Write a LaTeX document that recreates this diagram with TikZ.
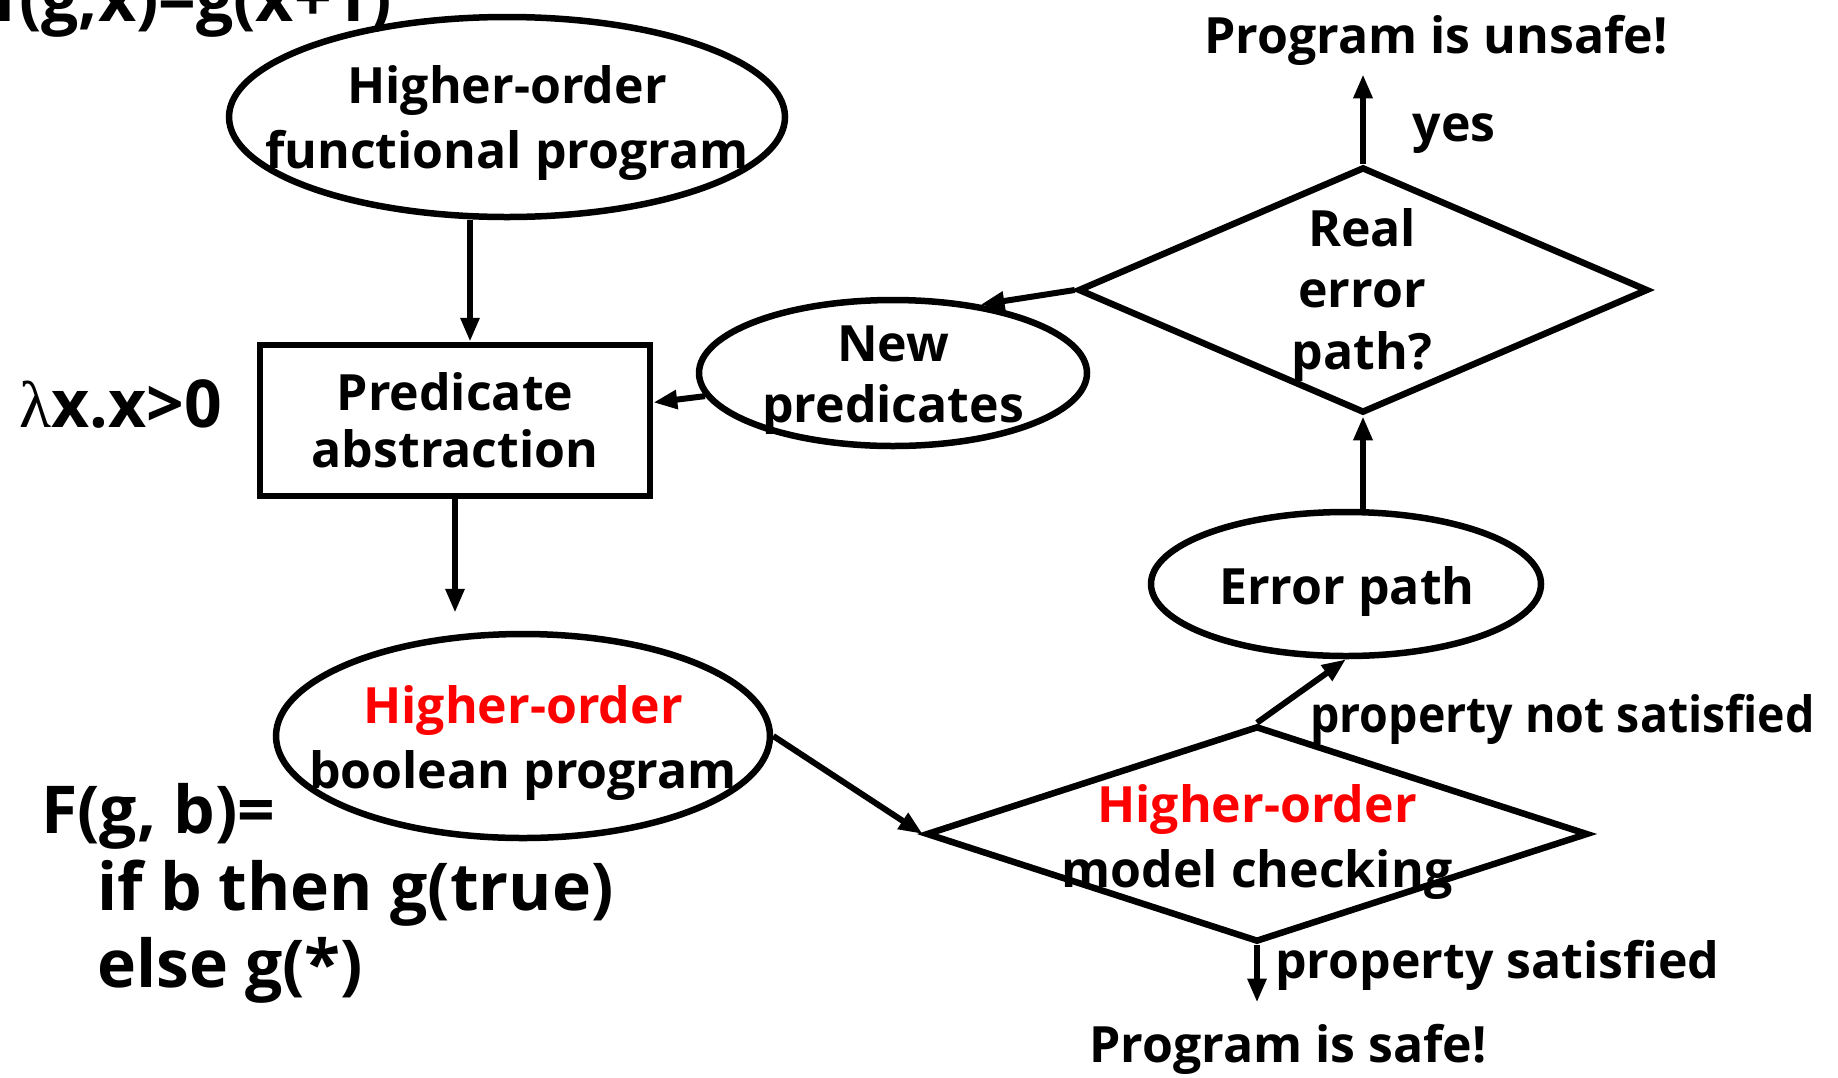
\documentclass[tikz,border=0pt]{standalone}
\usepackage{fontspec}
\setmainfont{Open Sans}
\newfontfamily\narrowfont{Open Sans}[FakeStretch=0.93]
\newfontfamily\lamfont{Liberation Serif}
\usetikzlibrary{shapes.geometric,arrows.meta,calc}
\definecolor{hored}{RGB}{255,0,0}

\begin{document}
\begin{tikzpicture}[x=1pt,y=-1pt,
  line width=6.5pt,
  txt/.style={font=\fontsize{50}{62}\selectfont\bfseries, inner sep=0pt, align=center},
  code/.style={font=\fontsize{66}{77}\selectfont\bfseries, inner sep=0pt, align=left},
  oval/.style={draw, ellipse, inner sep=0pt},
  rhomb/.style={draw, diamond, inner sep=0pt},
  boxnode/.style={draw, rectangle, inner sep=0pt},
  arr/.style={-{Triangle[length=24pt,width=18pt]}, line width=6pt},
]
\useasboundingbox (0,0) rectangle (1838,1077);
\fill[white] (0,0) rectangle (1838,1077);

% shapes of the refinement loop
\node[oval, minimum width=556, minimum height=200] (hofp) at (507,117) {};
\node[boxnode, minimum width=390, minimum height=151] (pa) at (455,420.5) {};
\node[oval, minimum width=388, minimum height=146] (newp) at (893,373) {};
\node[rhomb, minimum width=570, minimum height=246] (real) at (1363,290) {};
\node[oval, minimum width=390, minimum height=144] (err) at (1346,584) {};
\node[oval, minimum width=494, minimum height=204] (bool) at (523,736) {};
\node[rhomb, minimum width=662, minimum height=216] (mc) at (1257,834) {};

% texts inside the shapes (anchored on the last line's baseline)
\node[txt, font=\fontsize{50}{65}\selectfont\bfseries, anchor=base] (hofpt) at (507,168) {Higher-order\\functional program};
\node[txt, font=\fontsize{50}{57}\selectfont\bfseries, anchor=base] (pat) at (455,467) {Predicate\\abstraction};
\node[txt, font=\fontsize{50}{61}\selectfont\bfseries, anchor=base] (newpt) at (893,422) {New\\predicates};
\node[txt, font=\fontsize{50}{61.5}\selectfont\bfseries, anchor=base] (realt) at (1362,369) {Real\\error\\path?};
\node[txt, anchor=base] (errt) at (1347,604) {Error path};
\node[txt, font=\fontsize{50}{65}\selectfont\bfseries, anchor=base] (boolt) at (523,788) {\textcolor{hored}{Higher-order}\\boolean program};
\node[txt, font=\fontsize{50}{65}\selectfont\bfseries, anchor=base] (mct) at (1257,887) {\textcolor{hored}{Higher-order}\\model checking};

% outcome and edge labels
\node[txt, anchor=base] (unsafe) at (1436,53) {Program is unsafe!};
\node[txt, anchor=base] (yes) at (1454,141) {yes};
\node[txt, font=\fontsize{50}{62}\narrowfont\bfseries, anchor=base west] (notsat) at (1307,732) {property not satisfied};
\node[txt, anchor=base west] (sat) at (1272,978) {property satisfied};
\node[txt, anchor=base] (safe) at (1288,1062) {Program is safe!};

% side annotations
\node[code, anchor=base west] (predex) at (16,427) {{\lamfont\mdseries λ}x.x>0};
\node[code, anchor=base east] (fsrc) at (395,21) {f(g,x)=g(x+1)};
\node[code, anchor=base west] (fdef) at (38,987) {F(g, b)=\\\hspace*{56pt}if b then g(true)\\\hspace*{56pt}else g(*)};

% connectors
\draw[arr] ([xshift=15pt]pa.north |- hofp.south) -- ([xshift=15pt]pa.north);
\draw[arr] (pa.south) -- ([yshift=18pt]bool.north -| pa.south);
\draw[arr] (newp) -- ([yshift=18pt]pa.east);
\draw[arr] (real.west) -- (newp.38);
\draw[arr] (real.north) -- ([yshift=-6pt]real.north |- unsafe.south);
\draw[arr] (err.north -| real.south) -- (real.south);
\draw[arr] (bool.east) -- (mc.west);
\draw[arr] (mc.north) -- (err.south);
\draw[arr] (mc.south) -- ([yshift=18pt]mc.south |- safe.north);
\end{tikzpicture}
\end{document}
